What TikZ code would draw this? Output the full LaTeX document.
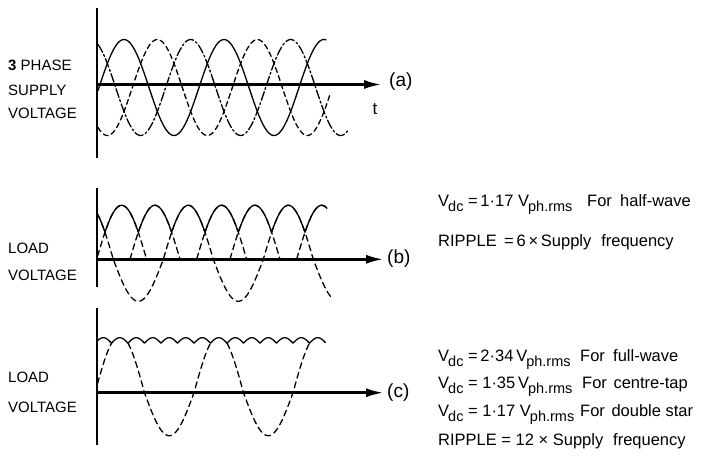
\documentclass[tikz,border=0pt]{standalone}
\usepackage{fontspec}
\setmainfont{Liberation Sans}
\usetikzlibrary{arrows.meta}
\newcommand{\Vs}[1]{V\kern-0.06em\raisebox{-0.32em}{\fontsize{14.5}{15}\selectfont #1}}
\tikzset{
  vaxis/.style={line width=2.8pt},
  haxis/.style={line width=2.8pt,-{Latex[length=18pt,width=9pt]}},
  wave/.style={line width=1.3pt,line join=round,line cap=round},
  phasedash/.style={wave,dash pattern=on 5pt off 3.5pt},
  phasedashdot/.style={wave,dash pattern=on 9pt off 2.5pt on 2pt off 2.5pt},
  loaddash/.style={wave,dash pattern=on 6pt off 4pt},
  sidelbl/.style={font=\fontsize{15}{17}\selectfont,anchor=west,inner sep=0pt},
  tag/.style={font=\fontsize{19}{21}\selectfont,anchor=west,inner sep=0pt},
  eqt/.style={font=\fontsize{16.5}{18}\selectfont,anchor=base west,inner sep=0pt},
}
\begin{document}
\begin{tikzpicture}[x=1pt,y=-1pt]
\useasboundingbox (0,0) rectangle (701,466);
% ---------------- panel (a)
\coordinate (aT) at (97,8); \coordinate (aB) at (97,158);
\coordinate (aO) at (97,84.5); \coordinate (aE) at (382,84.5);
\draw[vaxis] (aT) -- (aB);
\draw[haxis] (aO) -- (aE);
\draw[wave] plot[domain=98:326,samples=160,smooth] (\x,{87.5-48*sin(3.6*(\x-99))});
\draw[phasedash] plot[domain=98:330,samples=160,smooth] (\x,{87.5-48*sin(3.6*(\x-99)-120)});
\draw[phasedashdot] plot[domain=98:348,samples=160,smooth] (\x,{87.5-48*sin(3.6*(\x-99)+120)});
\node[sidelbl] (a1) at (8,65) {{\bfseries 3} PHASE};
\node[sidelbl] (a2) at (8,90) {SUPPLY};
\node[sidelbl] (a3) at (8,113) {VOLTAGE};
\node[tag] (atag) at (389,82) {(a)};
\node[font=\fontsize{17}{19}\selectfont,inner sep=0pt] (tlbl) at (375,109) {t};
% ---------------- panel (b)
\coordinate (bT) at (97,188); \coordinate (bB) at (97,287);
\coordinate (bO) at (97,259.3); \coordinate (bE) at (384,259.3);
\draw[vaxis] (bT) -- (bB);
\draw[haxis] (bO) -- (bE);
\draw[wave] plot[domain=97.5:327,samples=460] (\x,{259.3-54*max(sin(3.6*(\x-63.3)),sin(3.6*(\x-63.3)-120),sin(3.6*(\x-63.3)-240))});
\draw[loaddash] plot[domain=97.5:333,samples=200,smooth] (\x,{259.3-54*max(sin(3.6*(\x-63.3)),0)-42*min(sin(3.6*(\x-63.3)),0)});
\foreach \a/\b in {97.5/146.7,196.7/246.7,296.7/327}{
  \draw[loaddash] plot[domain=\a:\b,samples=60,smooth] (\x,{259.3-54*sin(3.6*(\x-63.3)-120)});
}
\foreach \a/\b in {130/180,230/280}{
  \draw[loaddash] plot[domain=\a:\b,samples=60,smooth] (\x,{259.3-54*sin(3.6*(\x-63.3)-240)});
}
\node[sidelbl] (b1l) at (8,248) {LOAD};
\node[sidelbl] (b2l) at (8,275) {VOLTAGE};
\node[tag] (btag) at (387,259) {(b)};
% ---------------- panel (c)
\coordinate (cT) at (97,308); \coordinate (cB) at (97,445);
\coordinate (cO) at (97,392.7); \coordinate (cE) at (384,392.7);
\draw[vaxis] (cT) -- (cB);
\draw[haxis] (cO) -- (cE);
\draw[wave] plot[domain=97.5:325.5,samples=700] (\x,{392.7-49.5-5.5*abs(sin(10.909*(\x-95)))});
\foreach \a/\b in {97.5/111.5,128/210.5,227/309.5}{
  \draw[loaddash] plot[domain=\a:\b,samples=80,smooth] (\x,{392.7-57.2*max(sin(3.63636*(\x-95)),0)-43*min(sin(3.63636*(\x-95)),0)});
}
\node[sidelbl] (c1l) at (8,377) {LOAD};
\node[sidelbl] (c2l) at (8,407) {VOLTAGE};
\node[tag] (ctag) at (387,393) {(c)};
% ---------------- formulas
\node[eqt] (b1) at (438,206.5) {\Vs{dc} =\,1·17 \Vs{ph.rms}};
\node[eqt] (b1f) at (587,206.5) {For\hspace{0.5em}half-wave};
\node[eqt] (b2) at (438,246.5) {RIPPLE\ \,=\,6\,×\,Supply\hspace{0.6em}frequency};
\node[eqt] (c1) at (438,361.7) {\Vs{dc} =\,2·34\,\Vs{ph.rms}};
\node[eqt] (c1f) at (580,361.7) {For\hspace{0.5em}full-wave};
\node[eqt] (c2) at (438,388.3) {\Vs{dc} =\ 1·35\,\Vs{ph.rms}};
\node[eqt] (c2f) at (582,388.3) {For\hspace{0.4em}centre-tap};
\node[eqt] (c3) at (438,416.7) {\Vs{dc} =\ 1·17 \Vs{ph.rms}};
\node[eqt] (c3f) at (580,416.7) {For\hspace{0.4em}double star};
\node[eqt] (c4) at (438,445) {RIPPLE = 12 × Supply\hspace{0.6em}frequency};
\end{tikzpicture}
\end{document}
